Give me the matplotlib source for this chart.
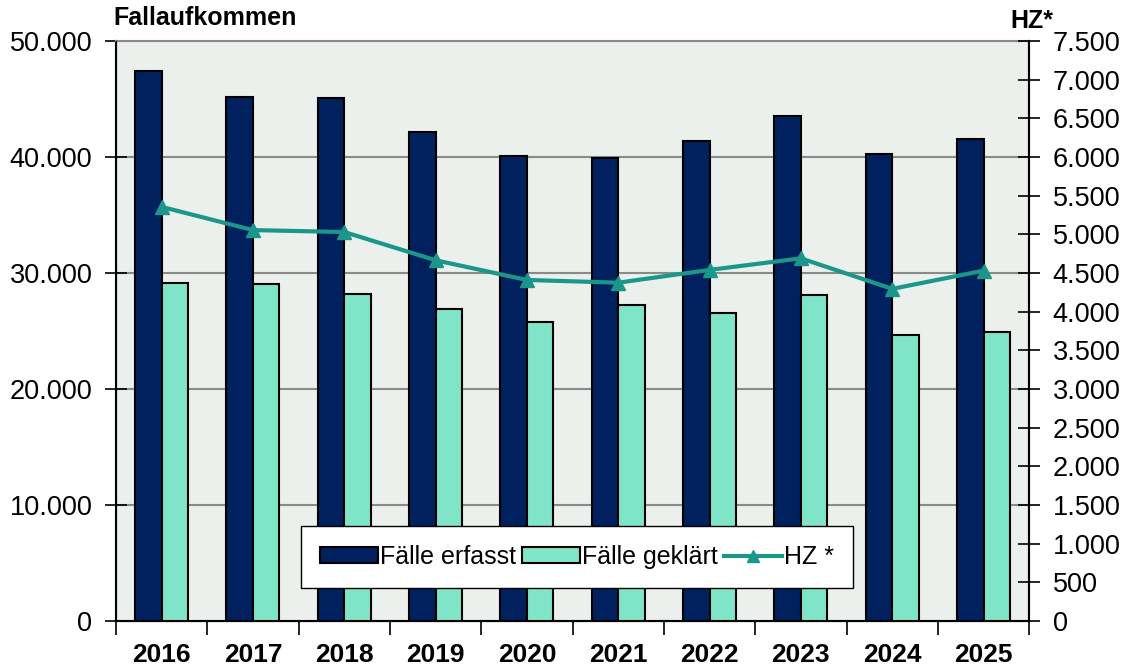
import matplotlib.pyplot as plt
import matplotlib.ticker as mticker
import numpy as np

plt.rcParams['font.family'] = ['Liberation Sans', 'DejaVu Sans']

jahre = ['2016', '2017', '2018', '2019', '2020', '2021', '2022', '2023', '2024', '2025']
faelle_erfasst = [47400, 45200, 45060, 42190, 40090, 39890, 41400, 43530, 40230, 41520]
faelle_geklaert = [29140, 29020, 28160, 26870, 25810, 27240, 26580, 28080, 24660, 24940]
hz = [5355, 5055, 5030, 4665, 4410, 4375, 4540, 4690, 4295, 4530]

navy = '#00215E'
mint = '#80E5C8'
teal = '#1A968A'

def dot_fmt(v, pos):
    return f'{int(v):,}'.replace(',', '.')

fig = plt.figure(figsize=(11.26, 6.65), dpi=100)
ax = fig.add_axes([0.103, 0.0662, 0.811, 0.8721])
ax.set_facecolor('#ECF0EC')

x = np.arange(len(jahre))
w = 0.29
b1 = ax.bar(x - w / 2, faelle_erfasst, w, color=navy, edgecolor='black', linewidth=1.5,
            label='Fälle erfasst', zorder=3)
b2 = ax.bar(x + w / 2, faelle_geklaert, w, color=mint, edgecolor='black', linewidth=1.5,
            label='Fälle geklärt', zorder=3)

ax.set_xlim(-0.5, len(jahre) - 0.5)
ax.set_ylim(0, 50000)
ax.set_yticks(np.arange(0, 50001, 10000))
ax.yaxis.set_major_formatter(mticker.FuncFormatter(dot_fmt))
ax.yaxis.grid(True, color='#8a8a8a', linewidth=1.5, zorder=0)
ax.set_axisbelow(True)

ax.set_xticks(x)
ax.set_xticklabels(jahre, fontsize=19, fontweight='bold')
ax.tick_params(axis='x', length=0, pad=16)
ax.set_xticks(np.arange(-0.5, len(jahre), 1), minor=True)
ax.tick_params(axis='x', which='minor', length=10, width=1.2, direction='out')
ax.tick_params(axis='y', labelsize=19.5, length=16, width=1.2, direction='inout', pad=9)

for side in ['left', 'right', 'bottom']:
    ax.spines[side].set_color('black')
    ax.spines[side].set_linewidth(1.5)
ax.spines['top'].set_color('#8a8a8a')
ax.spines['top'].set_linewidth(1.5)

ax2 = ax.twinx()
l1, = ax2.plot(x, hz, color=teal, linewidth=3, marker='^', markersize=10,
               label='HZ *', zorder=5)
ax2.set_ylim(0, 7500)
ax2.set_yticks(np.arange(0, 7501, 500))
ax2.yaxis.set_major_formatter(mticker.FuncFormatter(dot_fmt))
ax2.tick_params(axis='y', labelsize=19.5, length=16, width=1.2, direction='inout', pad=9)
ax2.spines['right'].set_linewidth(1.5)
ax2.spines['top'].set_visible(False)

leg = ax2.legend([b1, b2, l1], ['Fälle erfasst', 'Fälle geklärt', 'HZ *'],
                 loc='lower center', bbox_to_anchor=(0.505, 0.057), ncol=3,
                 fontsize=18, frameon=True, fancybox=False, shadow=False,
                 handlelength=2.3, handleheight=0.6, handletextpad=0.1,
                 columnspacing=0.25, borderpad=0.75, borderaxespad=0,
                 markerscale=0.8)
leg.get_frame().set_edgecolor('black')
leg.get_frame().set_linewidth(1.0)
leg.get_frame().set_facecolor('white')
leg.get_frame().set_alpha(1)

fig.text(0.101, 0.955, 'Fallaufkommen', fontsize=18, fontweight='bold', ha='left', va='bottom')
fig.text(0.897, 0.95, 'HZ*', fontsize=18, fontweight='bold', ha='left', va='bottom')

fig.savefig('out.png', dpi=100, facecolor='white')
